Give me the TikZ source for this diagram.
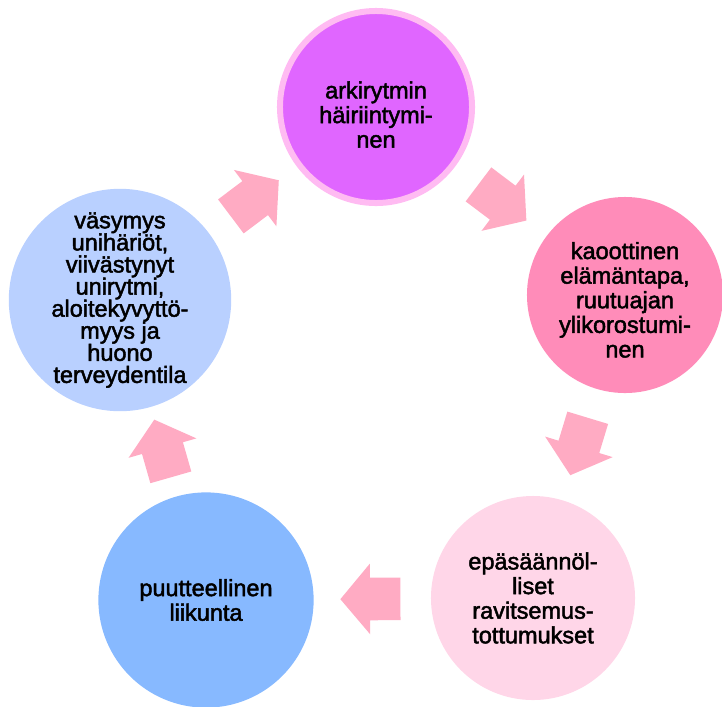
\documentclass[tikz,border=0pt]{standalone}
\usepackage{fontspec}
\setmainfont{Liberation Sans}
\newfontfamily\stagefont[FakeBold=2]{Liberation Sans}
\usepackage{tikz}
\usetikzlibrary{shapes.arrows, positioning, calc}
\definecolor{violetfill}{RGB}{224,102,255}
\definecolor{ringpink}{RGB}{255,187,242}
\definecolor{rosefill}{RGB}{255,140,185}
\definecolor{blushfill}{RGB}{255,214,232}
\definecolor{skyfill}{RGB}{135,185,255}
\definecolor{paleblue}{RGB}{185,208,255}
\definecolor{arrowpink}{RGB}{255,171,195}

\begin{document}
\begin{tikzpicture}[
        x=0.025cm, y=-0.025cm,
        % Styles
        stage/.style={circle, draw=none, inner sep=0pt, align=center,
                      font=\stagefont\fontsize{16.7}{17.5}\selectfont},
        flow/.style={single arrow, fill=arrowpink, draw=none,
                     inner xsep=0pt, inner ysep=0.525cm,
                     minimum height=1.5cm,
                     single arrow head extend=0.35cm, single arrow tip angle=100,
                     sloped, allow upside down, pos=0.44},
    ]
    \useasboundingbox (0,0) rectangle (722,706);

    % Cycle stages
    \node[stage, fill=violetfill, draw=ringpink, line width=0.15cm, minimum size=4.8cm]
        (arki) at (376,107) {\rule{0pt}{23pt}arkirytmin\\häiriintymi-\\nen};
    \node[stage, fill=rosefill, minimum size=4.9cm]
        (kaos) at (625,295) {\rule{0pt}{19pt}kaoottinen\\elämäntapa,\\ruutuajan\\ylikorostumi-\\nen};
    \node[stage, fill=blushfill, minimum size=5.1cm]
        (ravinto) at (533,598) {epäsäännöl-\\liset\\ravitsemus-\\tottumukset};
    \node[stage, fill=skyfill, minimum size=5.38cm]
        (liikunta) at (206,600) {puutteellinen\\liikunta};
    \node[stage, fill=paleblue, minimum size=5.35cm,
          font=\stagefont\fontsize{16.7}{15.7}\selectfont]
        (vasymys) at (120,300) {väsymys\\unihäriöt,\\viivästynyt\\unirytmi,\\aloitekyvyttö-\\myys ja\\huono\\terveydentila};

    % Arrows between stages
    \path (arki) -- node[flow] (a1) {} (kaos);
    \path (kaos) -- node[flow] (a2) {} (ravinto);
    \path (ravinto) -- node[flow] (a3) {} (liikunta);
    \path (liikunta) -- node[flow] (a4) {} (vasymys);
    \path (vasymys) -- node[flow] (a5) {} (arki);

\end{tikzpicture}
\end{document}
